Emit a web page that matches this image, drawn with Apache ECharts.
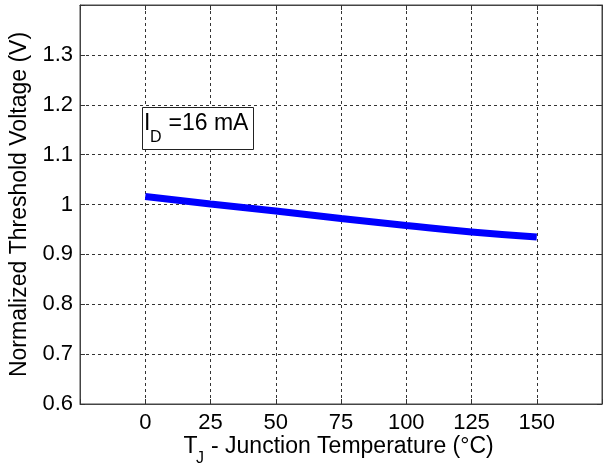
<!DOCTYPE html>
<html>
<head>
<meta charset="utf-8">
<script src="https://cdn.jsdelivr.net/npm/echarts@6/dist/echarts.min.js"></script>
<style>
html,body{margin:0;padding:0;background:#fff;}
#c{width:604px;height:470px;}
</style>
</head>
<body>
<div id="c"></div>
<script>
// Data
const temps = [0, 25, 50, 75, 100, 125, 150];
const vth   = [1.016, 1.001, 0.987, 0.972, 0.958, 0.945, 0.935];
const xTicksShown = [0, 25, 50, 75, 100, 125, 150];
const yMin = 0.6, yMax = 1.4, yStep = 0.1;
const xMin = -25, xMax = 175, xStep = 25;
const yTitle = 'Normalized Threshold Voltage (V)';
const xTitleMain = 'T', xTitleSub = 'J', xTitleRest = '- Junction Temperature (°C)';
const noteMain = 'I', noteSub = 'D', noteRest = '=16 mA';

const FONT = '"Liberation Sans", Arial, sans-serif';
const chart = echarts.init(document.getElementById('c'));

const gridLine = { show: true, lineStyle: { color: '#333', type: [3, 3], width: 1 } };
const tick = { show: true, inside: true, length: 5, lineStyle: { color: '#333', width: 1 } };
const axLine = { show: true, onZero: false, lineStyle: { color: '#444', width: 1 } };

function txt(x, y, s, size) {
  return { type: 'text', x: x, y: y, z: 100,
    style: { text: s, fontFamily: FONT, fontSize: size, fill: '#000', align: 'left', verticalAlign: 'middle' } };
}

chart.setOption({
  animation: false,
  backgroundColor: '#fff',
  grid: { left: 80, right: 2, top: 5, bottom: 66, show: true, borderColor: '#444', borderWidth: 1, outerBoundsMode: 'none' },
  xAxis: [{
    type: 'value', min: xMin, max: xMax, interval: xStep,
    axisLine: axLine, axisTick: tick, splitLine: gridLine,
    axisLabel: {
      fontFamily: FONT, fontSize: 22, color: '#000', margin: 8,
      formatter: v => xTicksShown.indexOf(v) >= 0 ? String(v) : ''
    }
  }, {
    type: 'value', position: 'top', min: xMin, max: xMax, interval: xStep,
    axisLine: axLine, axisTick: tick, splitLine: { show: false }, axisLabel: { show: false }
  }],
  yAxis: [{
    type: 'value', min: yMin, max: yMax, interval: yStep,
    axisLine: axLine, axisTick: tick, splitLine: gridLine,
    axisLabel: {
      fontFamily: FONT, fontSize: 22, color: '#000', margin: 7,
      formatter: v => Math.abs(v - yMax) < 1e-6 ? '' : String(+v.toFixed(1))
    },
    name: yTitle,
    nameLocation: 'middle', nameGap: 45,
    nameTextStyle: { fontFamily: FONT, fontSize: 23, color: '#000' }
  }, {
    type: 'value', position: 'right', min: yMin, max: yMax, interval: yStep,
    axisLine: axLine, axisTick: tick, splitLine: { show: false }, axisLabel: { show: false }
  }],
  graphic: [
    { type: 'rect', z: 99, shape: { x: 142.5, y: 107.5, width: 111, height: 42 },
      style: { fill: '#fff', stroke: '#222', lineWidth: 1 } },
    txt(144, 124, noteMain, 23),
    txt(150, 138, noteSub, 16),
    txt(168.5, 124, noteRest, 23),
    txt(183.5, 446.7, xTitleMain, 23),
    txt(196, 458.5, xTitleSub, 16),
    txt(211, 446.7, xTitleRest, 23)
  ],
  series: [{
    type: 'line',
    data: temps.map((t, i) => [t, vth[i]]),
    smooth: true,
    showSymbol: false,
    lineStyle: { color: '#0000ff', width: 7 },
    z: 5
  }]
});
</script>
</body>
</html>
